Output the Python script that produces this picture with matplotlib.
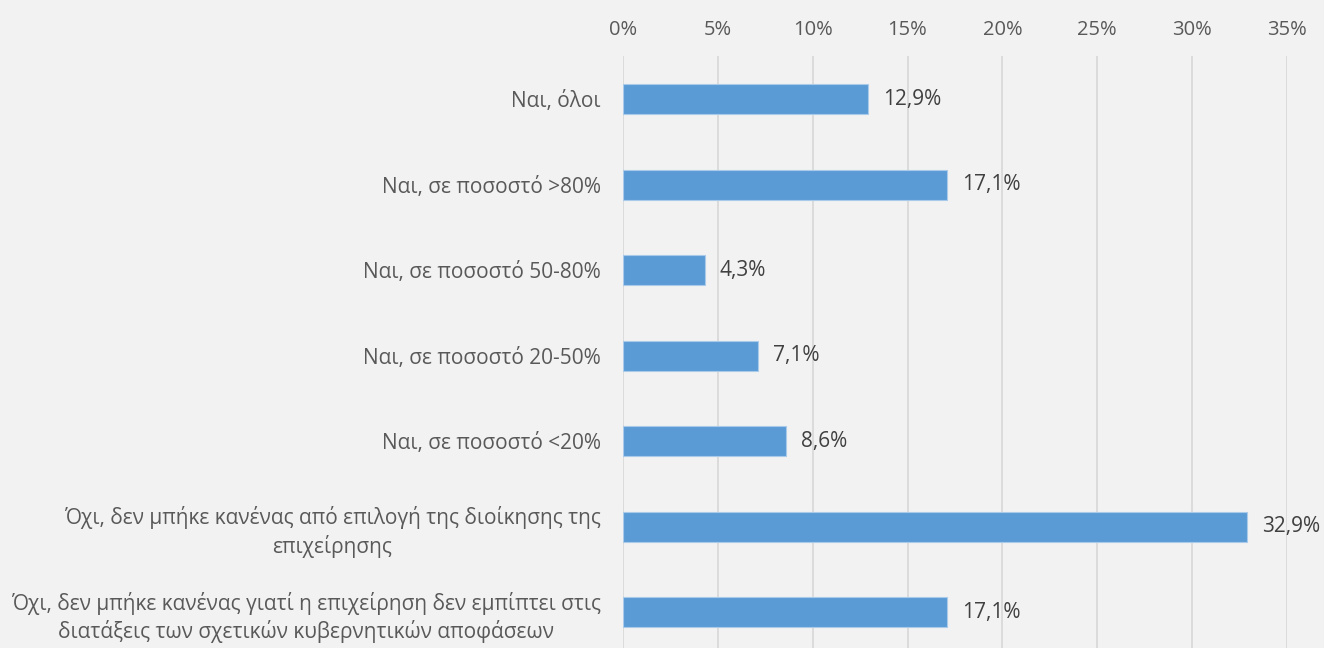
import matplotlib.pyplot as plt
import numpy as np

# δεδομένα
categories = [
    "Ναι, όλοι",
    "Ναι, σε ποσοστό >80%",
    "Ναι, σε ποσοστό 50-80%",
    "Ναι, σε ποσοστό 20-50%",
    "Ναι, σε ποσοστό <20%",
    "Όχι, δεν μπήκε κανένας από επιλογή της διοίκησης της\nεπιχείρησης",
    "Όχι, δεν μπήκε κανένας γιατί η επιχείρηση δεν εμπίπτει στις\nδιατάξεις των σχετικών κυβερνητικών αποφάσεων",
]
values = [12.9, 17.1, 4.3, 7.1, 8.6, 32.9, 17.1]
xticks = [0, 5, 10, 15, 20, 25, 30, 35]

plt.rcParams['font.family'] = ['Open Sans', 'DejaVu Sans']

fig = plt.figure(figsize=(13.24, 6.48), dpi=100, facecolor='#f2f2f2')
ax = fig.add_axes([0.4705, -0.011, 0.5015, 0.924])
ax.set_facecolor('#f2f2f2')

y = np.arange(len(categories))
ax.barh(y, values, height=0.35, color='#5b9bd5', edgecolor='#a9cbe9', linewidth=0.8, zorder=3)

for yi, v in zip(y, values):
    ax.text(v + 0.8, yi, f"{v:.1f}%".replace('.', ','), va='center', ha='left',
            fontsize=15, color='#404040')

ax.set_xlim(0, 35)
ax.set_ylim(len(categories) - 0.5, -0.5)
ax.set_xticks(xticks)
ax.set_xticklabels([f"{t}%" for t in xticks])
ax.xaxis.tick_top()
ax.tick_params(axis='x', length=0, pad=12, labelsize=14.5, labelcolor='#595959')
ax.set_yticks(y)
ax.set_yticklabels(categories, fontsize=15, color='#595959', ha='right',
                   multialignment='center', linespacing=1.3)
ax.tick_params(axis='y', length=0, pad=16)
ax.grid(axis='x', color='#d9d9d9', linewidth=1.3, zorder=0)
for s in ax.spines.values():
    s.set_visible(False)

fig.savefig('out.png', dpi=100, facecolor=fig.get_facecolor())
